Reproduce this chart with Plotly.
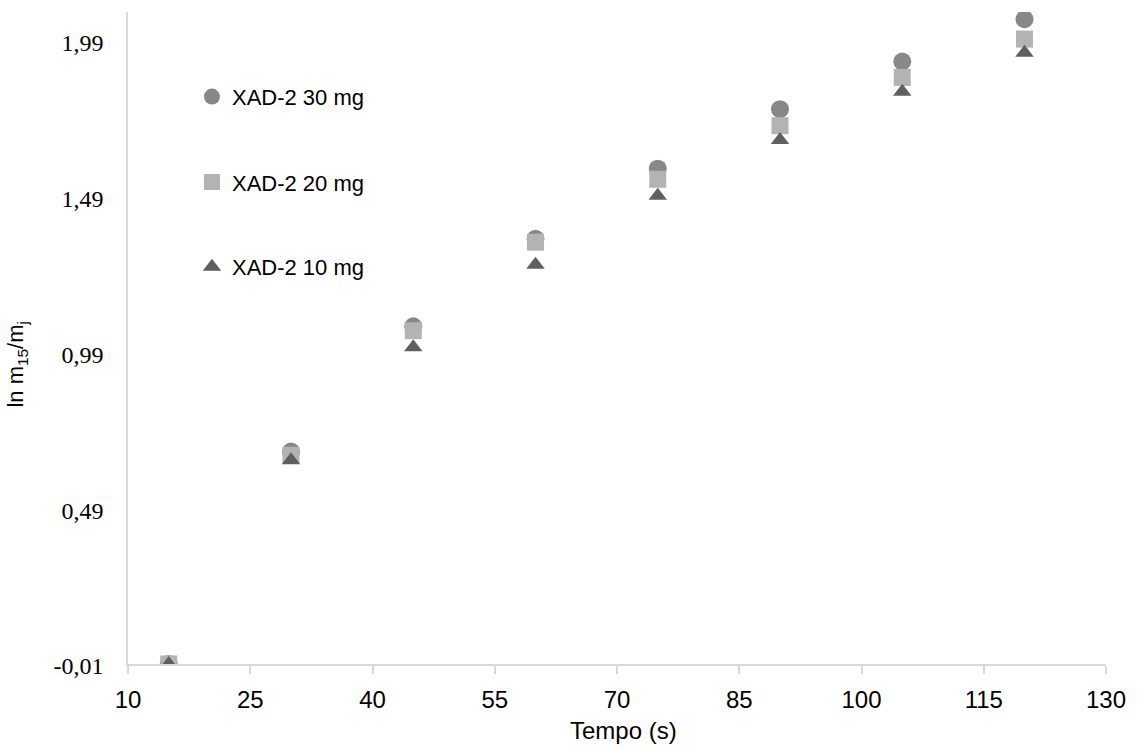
import plotly.graph_objects as go

# Tempo (s)
tempo = [15, 30, 45, 60, 75, 90, 105, 120]

# ln(m15/mj) for each XAD-2 mass
xad_30mg = [-0.01, 0.672, 1.074, 1.355, 1.580, 1.771, 1.924, 2.060]
xad_20mg = [-0.01, 0.660, 1.060, 1.344, 1.546, 1.718, 1.873, 1.996]
xad_10mg = [-0.01, 0.644, 1.007, 1.272, 1.493, 1.672, 1.827, 1.952]

x_ticks = [10, 25, 40, 55, 70, 85, 100, 115, 130]
y_ticks = [-0.01, 0.49, 0.99, 1.49, 1.99]
y_tick_text = ["-0,01", "0,49", "0,99", "1,49", "1,99"]

series = [
    ("XAD-2 30 mg", xad_30mg, "circle", 18, "#888888", "legend"),
    ("XAD-2 20 mg", xad_20mg, "square", 17, "#b3b3b3", "legend2"),
    ("XAD-2 10 mg", xad_10mg, "triangle-up", 16, "#5f5f5f", "legend3"),
]

fig = go.Figure()
for name, vals, sym, size, color, leg in series:
    fig.add_trace(go.Scatter(
        x=tempo, y=vals, mode="markers", name=name, legend=leg,
        marker=dict(symbol=sym, size=size, color=color, line=dict(width=0)),
    ))

legend_font = dict(family="Liberation Sans, Arial", size=22, color="#000000")
legend_common = dict(x=0.0654, xanchor="left", yanchor="middle",
                     bgcolor="rgba(0,0,0,0)", font=legend_font,
                     itemwidth=30, borderwidth=0)

fig.update_layout(
    width=1145, height=751,
    margin=dict(l=128, r=39, t=12, b=87),
    paper_bgcolor="white", plot_bgcolor="white",
    showlegend=True,
    legend=dict(y=0.870, **legend_common),
    legend2=dict(y=0.739, **legend_common),
    legend3=dict(y=0.609, **legend_common),
    xaxis=dict(
        range=[10, 130], tickvals=x_ticks, ticktext=[str(v) for v in x_ticks],
        showgrid=False, zeroline=False,
        showline=True, linecolor="#d9d9d9", linewidth=1.5,
        ticks="outside", ticklen=8, tickcolor="#d9d9d9", tickwidth=1.5,
        ticklabelstandoff=5,
        tickfont=dict(family="Liberation Sans, Arial", size=24, color="#000000"),
    ),
    yaxis=dict(
        range=[-0.01, 2.083], tickvals=y_ticks, ticktext=y_tick_text,
        showgrid=False, zeroline=False,
        showline=True, linecolor="#d9d9d9", linewidth=1.5,
        ticks="", ticklabelstandoff=18, ticklabelshift=2,
        tickfont=dict(family="Liberation Serif, Times New Roman", size=24, color="#000000"),
    ),
    annotations=[
        dict(text="Tempo (s)", xref="paper", yref="paper",
             x=0.507, y=-0.102, xanchor="center", yanchor="middle", showarrow=False,
             font=dict(family="Liberation Sans, Arial", size=24, color="#000000")),
        dict(text="ln m<sub>15</sub>/m<sub>j</sub>", xref="paper", yref="paper",
             x=-0.113, y=0.46, xanchor="center", yanchor="middle", showarrow=False,
             textangle=-90,
             font=dict(family="Liberation Sans, Arial", size=22, color="#000000")),
    ],
)

fig.write_html("out.html")
